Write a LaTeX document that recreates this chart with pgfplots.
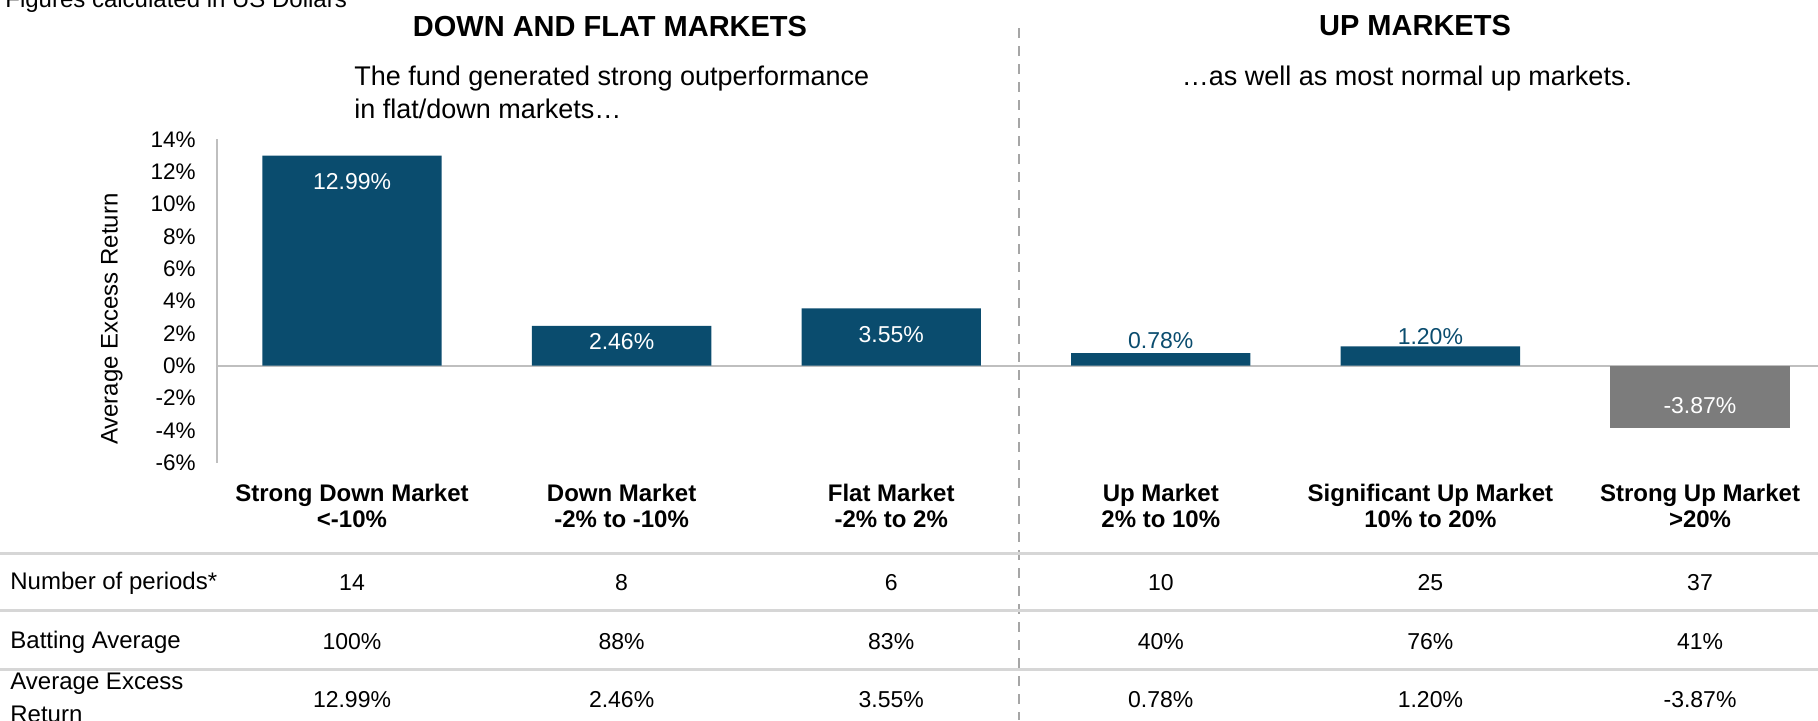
\documentclass[border=0pt]{standalone}
\usepackage{fontspec}
\setmainfont{Liberation Sans}
\usepackage{pgfplots}
\pgfplotsset{compat=1.18}
\definecolor{barblue}{RGB}{10,76,110}
\definecolor{bargray}{RGB}{124,124,124}
\definecolor{axisgray}{RGB}{191,191,191}
\definecolor{rulegray}{RGB}{214,214,214}
\definecolor{dashgray}{RGB}{166,166,166}

\newcommand{\body}{\fontsize{12}{14}\selectfont}
\newcommand{\nums}{\fontsize{11.5}{13}\selectfont}

\begin{document}
\begin{tikzpicture}
\useasboundingbox (0,0) rectangle (909pt,-360pt);

\begin{axis}[
  at={(108.35pt,-231.35pt)}, anchor=south west,
  scale only axis, width=800.65pt, height=161.7pt,
  xmin=-0.502, xmax=5.438, ymin=-6, ymax=14,
  axis x line=none, axis y line*=left,
  y axis line style={axisgray, line width=1pt, -},
  ytick={-6,-4,...,14},
  yticklabels={-6\%,-4\%,-2\%,0\%,2\%,4\%,6\%,8\%,10\%,12\%,14\%},
  major tick length=0pt,
  yticklabel style={font=\fontsize{11.25}{13}\selectfont, xshift=-7pt},
  ylabel={Average Excess Return},
  ylabel style={font=\body, at={(axis description cs:-0.0654,0.444)}, anchor=center},
  ybar, bar width=0.665,
  clip=false,
]
\draw[axisgray, line width=1pt] (axis cs:-0.502,0) -- (axis cs:5.438,0);

% positive excess return
\addplot[fill=barblue, draw=none, bar shift=0]
  coordinates {(0,12.99) (1,2.46) (2,3.55) (3,0.78) (4,1.20)};
% negative excess return
\addplot[fill=bargray, draw=none, bar shift=0]
  coordinates {(5,-3.87)};

\node[white, font=\nums] at (axis cs:0,11.36) {12.99\%};
\node[white, font=\nums] at (axis cs:1,1.47) {2.46\%};
\node[white, font=\nums] at (axis cs:2,1.90) {3.55\%};
\node[barblue, font=\nums] at (axis cs:3,1.55) {0.78\%};
\node[barblue, font=\nums] at (axis cs:4,1.79) {1.20\%};
\node[white, font=\nums] at (axis cs:5,-2.49) {-3.87\%};
\end{axis}

\begin{scope}[x=0.5pt, y=-0.5pt]
% headings
\node[anchor=base west, font=\body, inner sep=0] at (5,7) {Figures calculated in US Dollars};
\node[font=\fontsize{14.5}{16}\selectfont\bfseries] at (610,27) {DOWN AND FLAT MARKETS};
\node[font=\fontsize{14.5}{16}\selectfont\bfseries] at (1415,26) {UP MARKETS};
\node[anchor=base west, font=\fontsize{13.5}{16}\selectfont, inner sep=0] at (354,85) {The fund generated strong outperformance};
\node[anchor=base west, font=\fontsize{13.5}{16}\selectfont, inner sep=0] at (354,118) {in flat/down markets…};
\node[anchor=base, font=\fontsize{13.5}{16}\selectfont, inner sep=0] at (1407,85) {…as well as most normal up markets.};

% divider
\draw[dashgray, line width=1pt, dash pattern=on 5pt off 4pt] (1019,28) -- (1019,720);

% category labels
\foreach \cx/\la/\lb in {352/Strong Down Market/<-10\%,
                         621.6/Down Market/-2\% to -10\%,
                         891.2/Flat Market/-2\% to 2\%,
                         1160.8/Up Market/2\% to 10\%,
                         1430.4/Significant Up Market/10\% to 20\%,
                         1700/Strong Up Market/>20\%}
  \node[font=\fontsize{12}{13}\selectfont\bfseries, align=center] at (\cx,506) {\la\\\lb};

% table rules
\foreach \ry in {553,610,669}
  \draw[rulegray, line width=1.5pt] (0,\ry) -- (1818,\ry);

% table rows
\node[anchor=west, font=\body, inner sep=0] at (10,583) {Number of periods*};
\node[anchor=west, font=\body, inner sep=0] at (10,642) {Batting Average};
\node[anchor=west, font=\body, inner sep=0] at (10,684) {Average Excess};
\node[anchor=west, font=\body, inner sep=0] at (10,714) {Return};

\foreach \cx/\a/\b/\c in {352/14/100\%/12.99\%,
                          621.6/8/88\%/2.46\%,
                          891.2/6/83\%/3.55\%,
                          1160.8/10/40\%/0.78\%,
                          1430.4/25/76\%/1.20\%,
                          1700/37/41\%/-3.87\%}{
  \node[font=\nums] at (\cx,583) {\a};
  \node[font=\nums] at (\cx,642) {\b};
  \node[font=\nums] at (\cx,700) {\c};
}
\end{scope}
\end{tikzpicture}
\end{document}
